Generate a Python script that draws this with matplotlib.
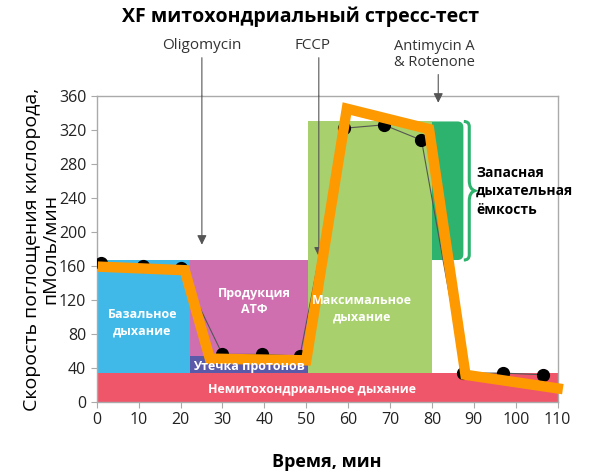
import matplotlib.pyplot as plt
from matplotlib.patches import Rectangle, FancyBboxPatch, PathPatch
from matplotlib.path import Path

plt.rcParams['font.family'] = ['Open Sans', 'DejaVu Sans']

# measured points (black dots)
time = [1, 11, 20, 30, 39.5, 48.5, 59, 68.5, 77.5, 87.5, 97, 106.5]
ocr = [164, 160, 158, 56, 56, 54, 322, 326, 308, 34, 34, 32]

# schematic trend (orange)
trend_t = [1.5, 21, 27, 50, 59.7, 79.3, 88, 110]
trend_v = [159, 155, 51, 49, 345, 321, 32, 16]

# regions: x0, x1, y0, y1
nonmito = (0, 110, 0, 34)
basal = (0, 22.3, 34, 167)
atp = (22.3, 50.4, 54, 167)
leak = (22.3, 50.4, 34, 54)
maximal = (50.4, 80, 34, 330)
spare = (80, 87.5, 167, 330)

# injections: x, arrow tip y, label
inj_x = [25.1, 53.0, 81.5]
inj_tip = [185, 171, 352]
inj_labels = ['Oligomycin', 'FCCP', 'Antimycin A\n& Rotenone']

fig = plt.figure(figsize=(6.02, 4.75), dpi=100)
ax = fig.add_axes([0.1606, 0.1537, 0.7658, 0.6443])
ax.set_xlim(0, 110)
ax.set_ylim(0, 360)

def rect(r, color, z=1):
    ax.add_patch(Rectangle((r[0], r[2]), r[1] - r[0], r[3] - r[2],
                           facecolor=color, edgecolor='none', zorder=z))

# spare capacity, rounded on the right
ax.add_patch(FancyBboxPatch((spare[0] - 5, spare[2]), spare[1] - spare[0] + 5,
                            spare[3] - spare[2],
                            boxstyle='round,pad=0,rounding_size=1.4',
                            mutation_aspect=4.9, facecolor='#2db36e',
                            edgecolor='none', zorder=1))
rect(maximal, '#a8d06c', 2)
rect(basal, '#41b9e8', 2)
rect(atp, '#d06fb0', 2)
rect(leak, '#5a5aa8', 2)
rect(nonmito, '#f0566a', 2)

# curly brace
bx, y0, y1 = 87.6, 167, 330
ym = (y0 + y1) / 2
w = 2.6
verts = [(bx, y1), (bx + w * 0.5, y1), (bx + w * 0.5, y1 - 6), (bx + w * 0.5, ym + 12),
         (bx + w * 0.5, ym + 2), (bx + w, ym), (bx + w, ym),
         (bx + w * 0.5, ym - 2), (bx + w * 0.5, ym - 12), (bx + w * 0.5, y0 + 6),
         (bx + w * 0.5, y0), (bx, y0)]
codes = [Path.MOVETO, Path.CURVE3, Path.CURVE3, Path.LINETO,
         Path.CURVE3, Path.CURVE3, Path.LINETO,
         Path.CURVE3, Path.CURVE3, Path.LINETO,
         Path.CURVE3, Path.CURVE3]
ax.add_patch(PathPatch(Path(verts, codes), facecolor='none', edgecolor='#2db36e',
                       lw=2.2, zorder=3, clip_on=False))

# region labels
lab = dict(color='white', fontweight='bold', ha='center', va='center',
           fontsize=9, zorder=6, linespacing=1.35)
ax.text(10.9, 93, 'Базальное\nдыхание', **lab)
ax.text(37.6, 118, 'Продукция\nАТФ', **lab)
ax.text(36.3, 42, 'Утечка протонов', **lab)
ax.text(63.3, 110, 'Максимальное\nдыхание', **lab)
ax.text(51.4, 15, 'Немитохондриальное дыхание', **lab)
ax.text(90.5, 248, 'Запасная\nдыхательная\nёмкость', fontsize=10, fontweight='bold',
        ha='left', va='center', linespacing=1.4, zorder=6)

# injection arrows
line_top = [1.125, 1.125, 1.07]
for x, tip, top in zip(inj_x, inj_tip, line_top):
    ax.annotate('', xy=(x, tip), xytext=(x, 1.0), textcoords=('data', 'axes fraction'),
                arrowprops=dict(arrowstyle='-|>', color='#555555', lw=0.8,
                                mutation_scale=14, shrinkA=0, shrinkB=0),
                zorder=3)
    ax.annotate('', xy=(x, 1.0), xytext=(x, top),
                xycoords=('data', 'axes fraction'),
                arrowprops=dict(arrowstyle='-', color='#555555', lw=0.8,
                                shrinkA=0, shrinkB=0), annotation_clip=False)
xt = ax.get_xaxis_transform()
ax.text(inj_x[0], 1.14, inj_labels[0], transform=xt,
        ha='center', va='bottom', fontsize=11, color='#333333')
ax.text(inj_x[1] - 1.5, 1.14, inj_labels[1], transform=xt,
        ha='center', va='bottom', fontsize=11, color='#333333')
ax.text(inj_x[2] - 1, 1.085, inj_labels[2], transform=xt,
        ha='center', va='bottom', fontsize=10.5, color='#333333', linespacing=1.05)

# data and trend
ax.plot(time, ocr, color='#555555', lw=0.8, marker='o', ms=8.5,
        markerfacecolor='black', markeredgecolor='black', zorder=4)
ax.plot(trend_t, trend_v, color='#ff9900', lw=7.5, solid_joinstyle='miter',
        zorder=5, clip_on=False)

ax.set_xticks(range(0, 111, 10))
ax.set_yticks(range(0, 361, 40))
ax.tick_params(colors='#aaaaaa', labelcolor='#222222', labelsize=11.5, length=4)
for s in ax.spines.values():
    s.set_color('#aaaaaa')
    s.set_linewidth(1)

ax.set_xlabel('Время, мин', fontsize=13, fontweight='bold', labelpad=18)
ax.set_ylabel('Скорость поглощения кислорода,\nпМоль/мин', fontsize=14,
              linespacing=1.0, labelpad=0)
fig.text(0.5, 0.965, 'XF митохондриальный стресс-тест', ha='center', va='center',
         fontsize=14, fontweight='bold')

fig.savefig('out.png', dpi=100)
